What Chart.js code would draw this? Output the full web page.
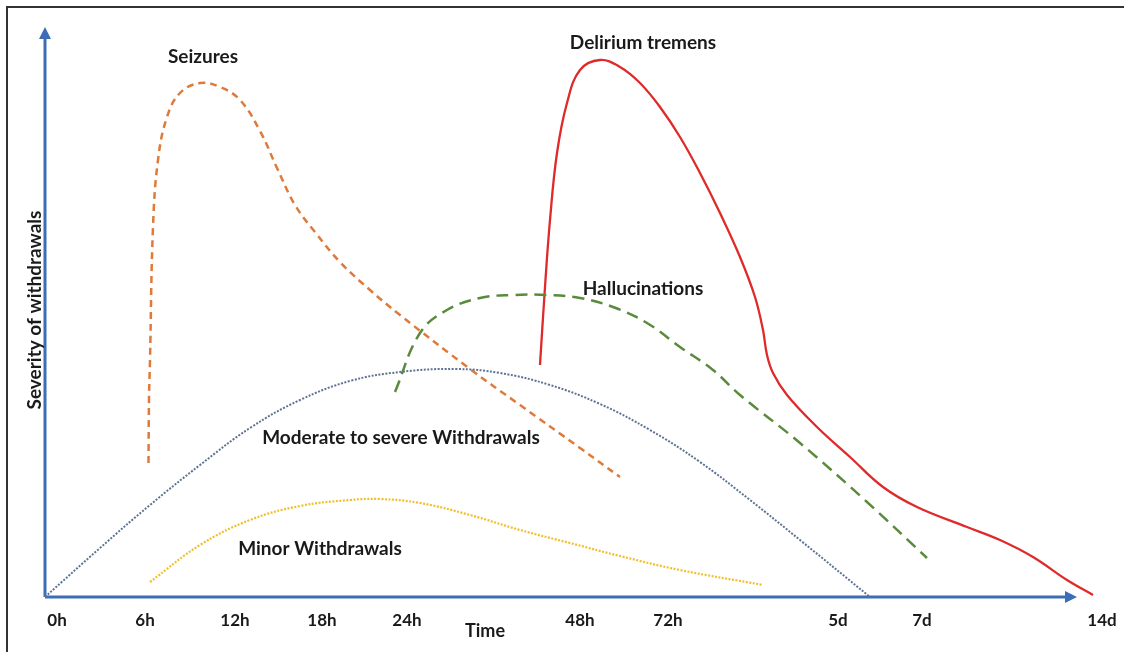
<!DOCTYPE html>
<html>
<head>
<meta charset="utf-8">
<script src="https://cdn.jsdelivr.net/npm/chart.js@4/dist/chart.umd.min.js"></script>
<style>
html,body{margin:0;padding:0;background:#fff;}
#wrap{width:1124px;height:652px;}
</style>
</head>
<body>
<div id="wrap"><canvas id="c" width="1124" height="652"></canvas></div>
<script>
// Tick labels along the time axis and their positions (axis units)
const tickLabels = ["0h","6h","12h","18h","24h","48h","72h","5d","7d","14d"];
const tickPositions = [1.2, 10.0, 19.0, 27.7, 36.2, 53.5, 62.3, 79.3, 87.7, 105.7];

// Series (x = position along time axis, y = severity)
const moderateX = [0, 5.5, 10.5, 15.5, 20.5, 25.5, 30.5, 35.5, 41.0, 45.5, 50.5, 55.5, 60.5, 65.5, 70.5, 75.5, 82.5];
const moderateY = [0, 4.9, 9.2, 13.2, 16.9, 19.7, 21.6, 22.5, 22.8, 22.4, 21.2, 19.3, 16.7, 13.5, 9.7, 5.7, 0];

const minorX = [10.5, 15.5, 20.5, 25.5, 30.5, 33.5, 37.5, 42.5, 47.5, 52.5, 57.5, 63.5, 71.8];
const minorY = [1.5, 5.2, 7.7, 9.1, 9.7, 9.8, 9.4, 8.2, 6.7, 5.4, 4.1, 2.7, 1.2];

const seizuresX = [10.35, 10.4, 10.5, 10.8, 11.3, 12.2, 13.5, 15.5, 17.5, 19.5, 21.5, 23.2, 25.0, 27.0, 29.5, 32.5, 35.5, 42.5, 47.5, 53.5, 57.5];
const seizuresY = [13.4, 19.7, 23.7, 37.0, 43.7, 48.0, 50.4, 51.4, 51.0, 49.7, 46.6, 42.9, 39.2, 36.5, 33.5, 30.7, 28.2, 22.8, 19.2, 14.9, 12.0];

const hallucX = [35.0, 37.5, 40.2, 43.5, 46.8, 50.2, 53.5, 56.8, 60.2, 63.5, 66.8, 69.5, 75.5, 82.2, 88.2];
const hallucY = [20.5, 26.4, 28.7, 29.9, 30.2, 30.2, 29.9, 29.0, 27.4, 25.0, 22.7, 20.2, 15.4, 9.5, 3.9];

const deliriumX = [49.5, 50.0, 50.5, 51.2, 52.2, 53.5, 55.5, 57.5, 59.5, 61.5, 63.5, 65.5, 67.5, 69.5, 71.0, 71.8, 72.2, 72.8, 74.2, 77.2, 80.5, 83.8, 87.2, 92.2, 95.5, 98.8, 102.2, 104.8];
const deliriumY = [23.2, 31.0, 37.7, 44.4, 49.4, 52.7, 53.7, 53.0, 51.4, 49.0, 46.0, 42.4, 38.4, 34.0, 30.0, 26.7, 24.2, 22.4, 20.2, 17.0, 14.0, 11.0, 9.0, 7.0, 5.7, 4.0, 1.7, 0.2];

const seriesNames = ["Moderate to severe Withdrawals","Minor Withdrawals","Seizures","Hallucinations","Delirium tremens"];

function pts(xs, ys){ return xs.map((x,i)=>({x:x, y:ys[i]})); }

const FONT = "Lato, 'Open Sans', sans-serif";

const annotations = [
  {text:"Seizures", x:15.8, y:54.0},
  {text:"Delirium tremens", x:59.8, y:55.4},
  {text:"Hallucinations", x:59.8, y:30.8},
  {text:"Moderate to severe Withdrawals", x:35.6, y:15.9},
  {text:"Minor Withdrawals", x:27.5, y:4.8}
];

const axisColor = "#3d6db5";

const overlay = {
  id: "overlay",
  beforeDatasetsDraw(chart){
    const ctx = chart.ctx;
    const xs = chart.scales.x, ys = chart.scales.y;
    const x0 = xs.getPixelForValue(0), y0 = ys.getPixelForValue(0);
    ctx.save();
    // frame
    ctx.strokeStyle = "#333";
    ctx.lineWidth = 2;
    ctx.beginPath();
    ctx.moveTo(7, 652); ctx.lineTo(7, 7); ctx.lineTo(1124, 7);
    ctx.stroke();
    // axes
    ctx.strokeStyle = axisColor;
    ctx.fillStyle = axisColor;
    ctx.lineWidth = 3;
    const xEnd = xs.getPixelForValue(103.2);
    const yEnd = ys.getPixelForValue(57.0);
    ctx.beginPath();
    ctx.moveTo(x0, y0); ctx.lineTo(xEnd - 8, y0);
    ctx.moveTo(x0, y0); ctx.lineTo(x0, yEnd + 8);
    ctx.stroke();
    // arrowheads
    ctx.beginPath();
    ctx.moveTo(xEnd, y0); ctx.lineTo(xEnd - 12, y0 - 6); ctx.lineTo(xEnd - 12, y0 + 6); ctx.closePath();
    ctx.fill();
    ctx.beginPath();
    ctx.moveTo(x0, yEnd); ctx.lineTo(x0 - 6, yEnd + 12); ctx.lineTo(x0 + 6, yEnd + 12); ctx.closePath();
    ctx.fill();
    ctx.restore();
  },
  afterDraw(chart){
    const ctx = chart.ctx;
    const xs = chart.scales.x, ys = chart.scales.y;
    const y0 = ys.getPixelForValue(0);
    ctx.save();
    ctx.fillStyle = "#1a1a1a";
    ctx.textAlign = "center";
    ctx.textBaseline = "middle";
    ctx.font = "bold 17px " + FONT;
    tickLabels.forEach((t,i)=>{
      ctx.fillText(t, xs.getPixelForValue(tickPositions[i]), y0 + 24);
    });
    ctx.font = "bold 18px " + FONT;
    ctx.fillText("Time", xs.getPixelForValue(44.0), y0 + 34);
    // y title
    ctx.save();
    ctx.translate(35, ys.getPixelForValue(28.7));
    ctx.rotate(-Math.PI/2);
    ctx.font = "bold 19px " + FONT;
    ctx.fillText("Severity of withdrawals", 0, 0);
    ctx.restore();
    // curve labels
    ctx.font = "bold 19px " + FONT;
    annotations.forEach(a=>{
      ctx.fillText(a.text, xs.getPixelForValue(a.x), ys.getPixelForValue(a.y));
    });
    ctx.restore();
  }
};

new Chart(document.getElementById("c"), {
  type: "scatter",
  data: {
    datasets: [
      {label: seriesNames[0], data: pts(moderateX, moderateY), borderColor: "#5d7393", borderWidth: 2, borderDash: [2,1.5]},
      {label: seriesNames[1], data: pts(minorX, minorY), borderColor: "#f0bf2a", borderWidth: 2.2, borderDash: [2,1.5]},
      {label: seriesNames[2], data: pts(seizuresX, seizuresY), borderColor: "#de7a3a", borderWidth: 2.5, borderDash: [7,5]},
      {label: seriesNames[3], data: pts(hallucX, hallucY), borderColor: "#5a8a3c", borderWidth: 2.5, borderDash: [12,7]},
      {label: seriesNames[4], data: pts(deliriumX, deliriumY), borderColor: "#df2a2a", borderWidth: 2.3, borderDash: []}
    ].map(d=>Object.assign(d,{showLine:true, pointRadius:0, pointHoverRadius:0, tension:0.4, fill:false, clip:false}))
  },
  options: {
    responsive: false,
    animation: false,
    devicePixelRatio: 1,
    layout: {padding: {left: 45, right: 24, top: 17, bottom: 55}},
    plugins: {legend: {display: false}, tooltip: {enabled: false}},
    scales: {
      x: {type: "linear", min: 0, max: 105.5, display: false},
      y: {type: "linear", min: 0, max: 58, display: false}
    }
  },
  plugins: [overlay]
});
</script>
</body>
</html>
